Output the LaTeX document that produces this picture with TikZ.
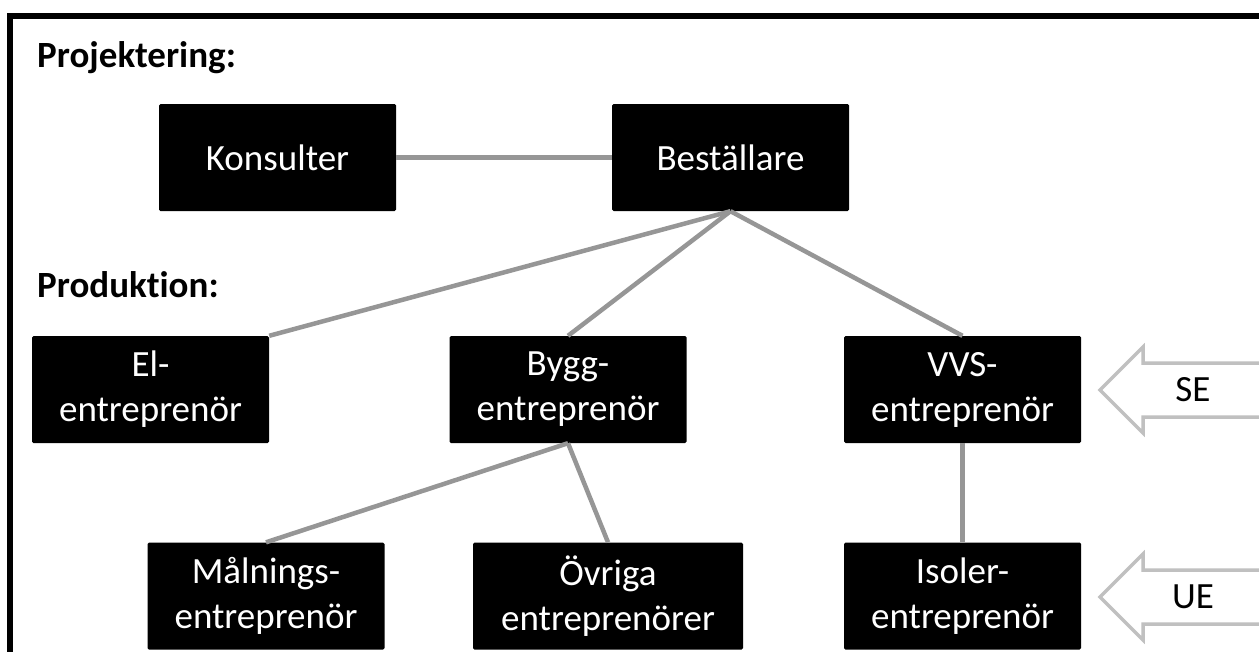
\documentclass[tikz,border=0pt]{standalone}
\usepackage{fontspec}
\setmainfont{Carlito}[Ligatures=NoCommon]
\definecolor{linkgray}{HTML}{969696}
\definecolor{arrowgray}{HTML}{C0C0C0}
\begin{document}
\begin{tikzpicture}[x=1pt,y=-1pt,
  box/.style={fill=black, text=white, rounded corners=1.5pt, minimum width=237pt,
    minimum height=107pt, inner sep=0pt, align=center,
    font=\fontsize{37}{45}\selectfont},
  link/.style={draw=linkgray, line width=4.5pt},
  bigarrow/.style={draw=arrowgray, line width=3.5pt, fill=white, line join=miter},
  title/.style={anchor=base west, inner sep=0pt, font=\fontsize{37}{45}\selectfont\bfseries},
  arrowtext/.style={inner sep=0pt, font=\fontsize{37}{45}\selectfont}]
\useasboundingbox (0,0) rectangle (1259,651);
\clip (0,0) rectangle (1259,651);
\fill[white] (0,0) rectangle (1259,651);

% frame
\draw[line width=6pt] (10,660) -- (10,16) -- (1270,16);

% titles
\node[title] (tproj) at (37,67) {Projektering:};
\node[title] (tprod) at (37,297) {Produktion:};

% boxes
\node[box] (kons) at (277.5,157.5) {Konsulter};
\node[box] (best) at (730.5,157.5) {Beställare};
\node[box] (el)   at (150.5,389.5) {El-\\entreprenör};
\node[box] (bygg) at (568,389.5) {Bygg-\\entreprenör};
\node[box] (vvs)  at (962.5,389.5) {VVS-\\entreprenör};
\node[box] (maln) at (266,596) {Målnings-\\entreprenör};
\node[box, minimum width=270pt] (ovr) at (608,596) {Övriga\\entreprenörer};
\node[box] (iso)  at (962.5,596) {Isoler-\\entreprenör};

% connectors
\draw[link] (kons.east) -- (best.west);
\draw[link] (best.south) -- (el.north east);
\draw[link] (best.south) -- (bygg.north);
\draw[link] (best.south) -- (vvs.north);
\draw[link] (bygg.south) -- (maln.north);
\draw[link] (bygg.south) -- (ovr.north);
\draw[link] (vvs.south) -- (iso.north);

% side arrows
\draw[bigarrow] (1100,390) -- (1143,347) -- (1143,363) -- (1275,363)
  -- (1275,417) -- (1143,417) -- (1143,433) -- cycle;
\draw[bigarrow] (1100,597) -- (1143,554) -- (1143,570) -- (1275,570)
  -- (1275,624) -- (1143,624) -- (1143,640) -- cycle;
\node[arrowtext] (se) at (1193,390) {SE};
\node[arrowtext] (ue) at (1193,597) {UE};
\end{tikzpicture}
\end{document}
